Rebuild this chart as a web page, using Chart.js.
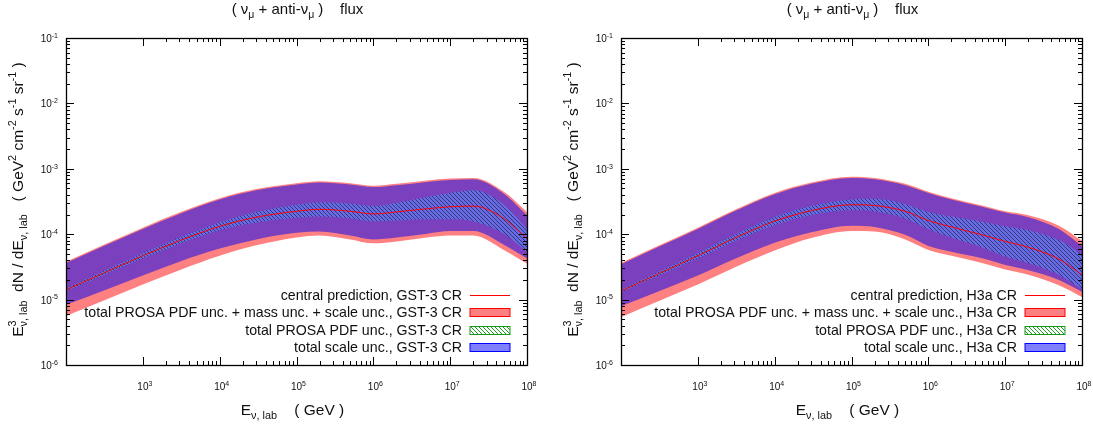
<!DOCTYPE html>
<html>
<head>
<meta charset="utf-8">
<script src="https://cdn.jsdelivr.net/npm/chart.js@4.4.1/dist/chart.umd.min.js"></script>
<style>
  html, body { margin: 0; padding: 0; background: #fff; }
  #wrap { position: relative; width: 1093px; height: 428px; }
  canvas { position: absolute; top: 0; }
</style>
</head>
<body>
<div id="wrap">
  <canvas id="leftChart" width="546" height="428" style="left:0"></canvas>
  <canvas id="rightChart" width="547" height="428" style="left:546px"></canvas>
</div>
<script>
// neutrino energy grid (GeV)
const energies = [1e2, 3e2, 1e3, 3e3, 1e4, 3e4, 1e5, 2e5, 5e5, 1e6, 2e6, 5e6, 1e7, 2e7, 5e7, 1e8];

// GST-3 CR flux, E^3 dN/dE (GeV^2 cm^-2 s^-1 sr^-1)
const gstCentral = [1.41e-5, 2.51e-5, 4.68e-5, 7.94e-5, 1.32e-4, 1.82e-4, 2.24e-4, 2.40e-4, 2.24e-4, 2.04e-4, 2.19e-4, 2.45e-4, 2.63e-4, 2.69e-4, 1.74e-4, 8.51e-5];
const gstTotalHi = [3.80e-5, 6.76e-5, 1.26e-4, 2.14e-4, 3.55e-4, 4.90e-4, 6.03e-4, 6.46e-4, 6.03e-4, 5.50e-4, 5.89e-4, 6.61e-4, 7.08e-4, 7.24e-4, 4.47e-4, 2.19e-4];
const gstTotalLo = [5.62e-6, 9.55e-6, 1.70e-5, 2.82e-5, 4.68e-5, 6.76e-5, 8.91e-5, 9.55e-5, 8.32e-5, 7.24e-5, 7.76e-5, 8.91e-5, 9.55e-5, 9.55e-5, 5.75e-5, 3.55e-5];
const gstScaleHi = [3.63e-5, 6.46e-5, 1.20e-4, 2.04e-4, 3.39e-4, 4.68e-4, 5.75e-4, 6.17e-4, 5.75e-4, 5.25e-4, 5.62e-4, 6.31e-4, 6.76e-4, 6.92e-4, 4.17e-4, 1.95e-4];
const gstScaleLo = [8.32e-6, 1.35e-5, 2.34e-5, 3.80e-5, 6.03e-5, 8.32e-5, 1.05e-4, 1.10e-4, 9.55e-5, 8.32e-5, 8.91e-5, 1.02e-4, 1.12e-4, 1.12e-4, 6.92e-5, 4.27e-5];
const gstPdfHi = [1.48e-5, 2.69e-5, 5.13e-5, 8.91e-5, 1.51e-4, 2.19e-4, 2.82e-4, 3.09e-4, 2.95e-4, 2.69e-4, 3.02e-4, 3.72e-4, 4.27e-4, 4.68e-4, 2.82e-4, 1.20e-4];
const gstPdfLo = [1.35e-5, 2.34e-5, 4.27e-5, 7.08e-5, 1.15e-4, 1.51e-4, 1.78e-4, 1.86e-4, 1.74e-4, 1.58e-4, 1.62e-4, 1.70e-4, 1.70e-4, 1.58e-4, 1.02e-4, 5.37e-5];

// H3a CR flux
const h3aCentral = [1.35e-5, 2.45e-5, 4.68e-5, 8.71e-5, 1.58e-4, 2.29e-4, 2.82e-4, 2.75e-4, 2.24e-4, 1.62e-4, 1.29e-4, 9.77e-5, 7.76e-5, 6.31e-5, 4.17e-5, 2.40e-5];
const h3aTotalHi = [3.63e-5, 6.61e-5, 1.26e-4, 2.34e-4, 4.27e-4, 6.17e-4, 7.59e-4, 7.24e-4, 5.89e-4, 4.47e-4, 3.55e-4, 2.75e-4, 2.24e-4, 1.95e-4, 1.35e-4, 7.94e-5];
const h3aTotalLo = [5.37e-6, 9.33e-6, 1.70e-5, 3.09e-5, 5.62e-5, 8.71e-5, 1.12e-4, 1.10e-4, 8.32e-5, 5.75e-5, 4.68e-5, 3.63e-5, 2.88e-5, 2.40e-5, 1.66e-5, 1.10e-5];
const h3aScaleHi = [3.47e-5, 6.31e-5, 1.20e-4, 2.24e-4, 4.07e-4, 5.89e-4, 7.24e-4, 6.92e-4, 5.62e-4, 4.27e-4, 3.39e-4, 2.63e-4, 2.14e-4, 1.82e-4, 1.20e-4, 6.61e-5];
const h3aScaleLo = [7.94e-6, 1.32e-5, 2.34e-5, 4.17e-5, 7.41e-5, 1.07e-4, 1.35e-4, 1.29e-4, 9.77e-5, 6.61e-5, 5.37e-5, 4.27e-5, 3.39e-5, 2.82e-5, 2.00e-5, 1.32e-5];
const h3aPdfHi = [1.41e-5, 2.63e-5, 5.13e-5, 9.77e-5, 1.82e-4, 2.69e-4, 3.39e-4, 3.47e-4, 2.88e-4, 2.19e-4, 1.86e-4, 1.55e-4, 1.32e-4, 1.15e-4, 8.13e-5, 4.90e-5];
const h3aPdfLo = [1.29e-5, 2.29e-5, 4.27e-5, 7.76e-5, 1.38e-4, 1.95e-4, 2.34e-4, 2.24e-4, 1.74e-4, 1.20e-4, 8.91e-5, 6.31e-5, 4.57e-5, 3.63e-5, 2.40e-5, 1.45e-5];

// axis ticks
const xMajorTicks = [1e3, 1e4, 1e5, 1e6, 1e7, 1e8];
const xTickExps = ['3', '4', '5', '6', '7', '8'];
const yMajorTicks = [1e-6, 1e-5, 1e-4, 1e-3, 1e-2, 1e-1];
const yTickExps = ['-6', '-5', '-4', '-3', '-2', '-1'];

const FONT = '"Liberation Sans", Arial, Helvetica, sans-serif';
const TEXT = '#111';

// pattern for the PDF band inside the plot
function makeHatch(bg, fg, size) {
  const c = document.createElement('canvas');
  c.width = size; c.height = size;
  const g = c.getContext('2d');
  if (bg) { g.fillStyle = bg; g.fillRect(0, 0, size, size); }
  g.strokeStyle = fg; g.lineWidth = 1;
  g.beginPath();
  g.moveTo(0, 0); g.lineTo(size, size);
  g.moveTo(-size, 0); g.lineTo(size, 2 * size);
  g.moveTo(0, -size); g.lineTo(2 * size, size);
  g.stroke();
  return g.createPattern(c, 'repeat');
}
const bandHatch = makeHatch('#6a6ae4', '#2a3a7a', 4);
const legendHatch = makeHatch('#ffffff', '#1a9a1a', 4);

// --- rich text helpers (sub / superscripts like gnuplot enhanced text)
function partWidth(ctx, p, size) {
  if (p.sup !== undefined) {
    ctx.font = `${size * 0.7}px ${FONT}`;
    return Math.max(ctx.measureText(p.sup).width, ctx.measureText(p.sub).width);
  }
  ctx.font = `${p[1] === 'n' ? size : size * 0.7}px ${FONT}`;
  return ctx.measureText(p[0]).width;
}
function richWidth(ctx, parts, size) {
  return parts.reduce((w, p) => w + partWidth(ctx, p, size), 0);
}
function drawRich(ctx, parts, x, y, size, align) {
  const w = richWidth(ctx, parts, size);
  if (align === 'center') x -= w / 2;
  if (align === 'right') x -= w;
  ctx.textAlign = 'left';
  ctx.textBaseline = 'alphabetic';
  parts.forEach(p => {
    const pw = partWidth(ctx, p, size);
    if (p.sup !== undefined) {
      ctx.font = `${size * 0.7}px ${FONT}`;
      ctx.fillText(p.sup, x, y - size * 0.42);
      ctx.fillText(p.sub, x, y + size * 0.28);
    } else {
      const dy = p[1] === 'sub' ? size * 0.28 : (p[1] === 'sup' ? -size * 0.42 : 0);
      ctx.font = `${p[1] === 'n' ? size : size * 0.7}px ${FONT}`;
      ctx.fillText(p[0], x, y + dy);
    }
    x += pw;
  });
}

const titleParts = [['( ν', 'n'], ['μ', 'sub'], [' + anti-ν', 'n'], ['μ', 'sub'], [' )    flux', 'n']];
const xTitleParts = [['E', 'n'], ['ν, lab', 'sub'], ['    ( GeV )', 'n']];
const yTitleParts = [['E', 'n'], { sup: '3', sub: 'ν, lab' }, ['  dN / dE', 'n'], ['ν, lab', 'sub'],
  ['   ( GeV', 'n'], ['2', 'sup'], [' cm', 'n'], ['-2', 'sup'], [' s', 'n'], ['-1', 'sup'],
  [' sr', 'n'], ['-1', 'sup'], [' )', 'n']];

const gnuFrame = {
  id: 'gnuFrame',
  afterDraw(chart, args, opts) {
    const ctx = chart.ctx;
    const a = chart.chartArea;
    const xs = chart.scales.x, ys = chart.scales.y;
    ctx.save();

    // frame and inward ticks (mirrored)
    ctx.strokeStyle = '#000';
    ctx.lineWidth = 1;
    ctx.beginPath();
    for (let n = 3; n <= 7; n++) {
      for (let m = 2; m <= 9; m++) {
        const px = Math.round(xs.getPixelForValue(m * Math.pow(10, n))) + 0.5;
        ctx.moveTo(px, a.bottom); ctx.lineTo(px, a.bottom - 4);
        ctx.moveTo(px, a.top); ctx.lineTo(px, a.top + 4);
      }
    }
    xMajorTicks.forEach(v => {
      const px = Math.round(xs.getPixelForValue(v)) + 0.5;
      ctx.moveTo(px, a.bottom); ctx.lineTo(px, a.bottom - 8);
      ctx.moveTo(px, a.top); ctx.lineTo(px, a.top + 8);
    });
    for (let n = -6; n <= -2; n++) {
      for (let m = 2; m <= 9; m++) {
        const py = Math.round(ys.getPixelForValue(m * Math.pow(10, n))) + 0.5;
        ctx.moveTo(a.left, py); ctx.lineTo(a.left + 4, py);
        ctx.moveTo(a.right, py); ctx.lineTo(a.right - 4, py);
      }
    }
    yMajorTicks.forEach(v => {
      const py = Math.round(ys.getPixelForValue(v)) + 0.5;
      ctx.moveTo(a.left, py); ctx.lineTo(a.left + 8, py);
      ctx.moveTo(a.right, py); ctx.lineTo(a.right - 8, py);
    });
    ctx.stroke();
    ctx.lineWidth = 1.3;
    ctx.strokeRect(a.left + 0.5, a.top + 0.5, a.right - a.left, a.bottom - a.top);

    // tick labels
    ctx.fillStyle = TEXT;
    xMajorTicks.forEach((v, i) => {
      drawRich(ctx, [['10', 'n'], [xTickExps[i], 'sup']], xs.getPixelForValue(v) + 2, a.bottom + 25, 10, 'center');
    });
    yMajorTicks.forEach((v, i) => {
      drawRich(ctx, [['10', 'n'], [yTickExps[i], 'sup']], a.left - 8, ys.getPixelForValue(v) + 4, 10, 'right');
    });

    // titles
    drawRich(ctx, titleParts, (a.left + a.right) / 2 + 1, 14, 15, 'center');
    drawRich(ctx, xTitleParts, (a.left + a.right) / 2 - 4, a.bottom + 50, 15.5, 'center');
    ctx.save();
    ctx.translate(a.left - 43, (a.top + a.bottom) / 2 - 2);
    ctx.rotate(-Math.PI / 2);
    drawRich(ctx, yTitleParts, 0, 0, 15.5, 'center');
    ctx.restore();

    // key, bottom right, text right-aligned with sample on the right
    const keyText = a.right - 65;
    const sx0 = a.right - 57, sx1 = a.right - 17;
    const rows = [a.bottom - 70.5, a.bottom - 53, a.bottom - 35.5, a.bottom - 18];
    opts.labels.forEach((label, i) => {
      const cy = rows[i];
      ctx.fillStyle = TEXT;
      ctx.font = `14.2px ${FONT}`;
      ctx.textAlign = 'right';
      ctx.textBaseline = 'alphabetic';
      ctx.fillText(label, keyText, cy + 5);
      if (i === 0) {
        ctx.strokeStyle = '#ff0000';
        ctx.lineWidth = 1;
        ctx.beginPath();
        ctx.moveTo(sx0, Math.round(cy) + 0.5); ctx.lineTo(sx1, Math.round(cy) + 0.5);
        ctx.stroke();
      } else {
        const fills = [null, '#ff8080', legendHatch, '#8080ff'];
        const borders = [null, '#ff0000', '#1a9a1a', '#0000ff'];
        const top = Math.round(cy - 4) + 0.5;
        ctx.fillStyle = fills[i];
        ctx.fillRect(sx0, top, sx1 - sx0, 8);
        ctx.strokeStyle = borders[i];
        ctx.lineWidth = 1;
        ctx.strokeRect(sx0, top, sx1 - sx0, 8);
      }
    });
    ctx.restore();
  }
};

function pts(values) {
  return energies.map((e, i) => ({ x: e, y: values[i] }));
}

function edge(values, fill, color) {
  return {
    data: pts(values),
    borderWidth: 0,
    borderColor: 'rgba(0,0,0,0)',
    pointRadius: 0,
    cubicInterpolationMode: 'monotone',
    fill: fill ? '-1' : false,
    backgroundColor: color || 'rgba(0,0,0,0)'
  };
}

function makeChart(canvasId, s, labels, padLeft, padRight) {
  const ctx = document.getElementById(canvasId).getContext('2d');
  return new Chart(ctx, {
    type: 'line',
    data: {
      datasets: [
        {
          data: pts(s.central),
          borderColor: '#ff0000',
          borderWidth: 1,
          pointRadius: 0,
          cubicInterpolationMode: 'monotone',
          fill: false
        },
        edge(s.pdfHi, false),
        edge(s.pdfLo, true, bandHatch),
        edge(s.scaleHi, false),
        edge(s.scaleLo, true, '#7b40bd'),
        edge(s.totalHi, false),
        edge(s.totalLo, true, '#ff8080')
      ]
    },
    options: {
      responsive: false,
      animation: false,
      devicePixelRatio: 1,
      events: [],
      layout: { padding: { left: padLeft, right: padRight, top: 38, bottom: 63 } },
      scales: {
        x: { type: 'logarithmic', min: 1e2, max: 1e8, display: false },
        y: { type: 'logarithmic', min: 1e-6, max: 1e-1, display: false }
      },
      plugins: {
        legend: { display: false },
        tooltip: { enabled: false },
        gnuFrame: { labels: labels }
      }
    },
    plugins: [gnuFrame]
  });
}

makeChart('leftChart', {
  central: gstCentral, totalHi: gstTotalHi, totalLo: gstTotalLo,
  scaleHi: gstScaleHi, scaleLo: gstScaleLo, pdfHi: gstPdfHi, pdfLo: gstPdfLo
}, [
  'central prediction, GST-3 CR',
  'total PROSA PDF unc. + mass unc. + scale unc., GST-3 CR',
  'total PROSA PDF unc., GST-3 CR',
  'total scale unc., GST-3 CR'
], 66, 19);

makeChart('rightChart', {
  central: h3aCentral, totalHi: h3aTotalHi, totalLo: h3aTotalLo,
  scaleHi: h3aScaleHi, scaleLo: h3aScaleLo, pdfHi: h3aPdfHi, pdfLo: h3aPdfLo
}, [
  'central prediction, H3a CR',
  'total PROSA PDF unc. + mass unc. + scale unc., H3a CR',
  'total PROSA PDF unc., H3a CR',
  'total scale unc., H3a CR'
], 75, 11);
</script>
</body>
</html>
